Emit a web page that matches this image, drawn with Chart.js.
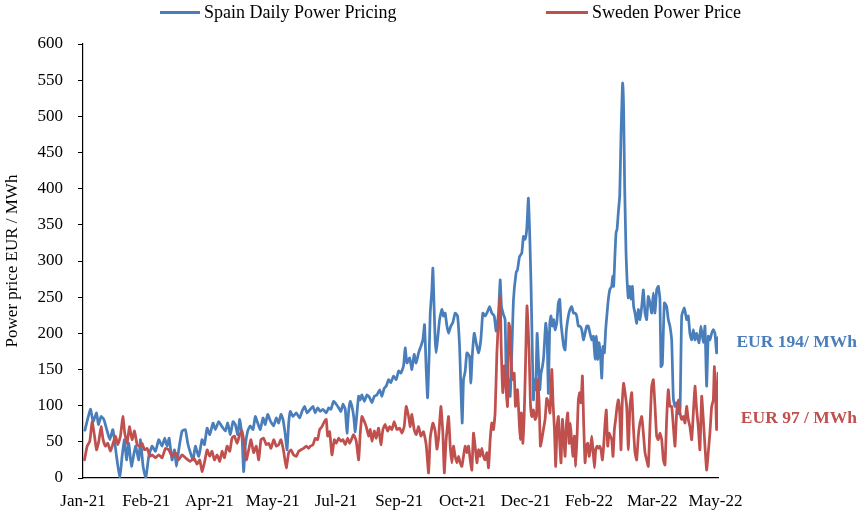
<!DOCTYPE html>
<html><head><meta charset="utf-8">
<script src="https://cdn.jsdelivr.net/npm/chart.js@4/dist/chart.umd.min.js"></script>
<style>html,body{margin:0;padding:0;background:#fff}#wrap{width:860px;height:512px}</style>
</head><body><div id="wrap"><canvas id="c" width="860" height="512"></canvas></div>
<script>
// days since 2021-01-01
const tickDays = [0,50,100,150,200,250,300,350,400,450,500];
const tickLabels = ['Jan-21','Feb-21','Apr-21','May-21','Jul-21','Sep-21','Oct-21','Dec-21','Feb-22','Mar-22','May-22'];
const lastDay = 502;

const spainDays = [1.5,5.9,8.0,10.7,12.2,14.3,16.5,19.1,21.2,23.6,26.5,29.1,30.9,32.8,34.4,36.2,38.3,41.5,44.1,45.4,47.5,49.6,52.0,54.6,57.3,59.9,62.5,64.6,66.5,68.1,70.4,72.3,73.9,75.7,78.3,80.9,82.8,
84.9,87.0,88.8,91.5,94.1,96.0,98.1,100.2,102.8,104.6,107.3,109.9,112.5,114.4,116.5,118.6,120.4,122.3,123.9,125.7,127.0,128.3,130.2,132.3,134.4,136.2,138.1,140.2,142.3,144.1,146.0,148.1,150.7,152.8,154.7,156.5,158.1,159.9,161.3,162.6,163.9,166.0,168.6,171.3,173.1,175.2,177.1,
179.7,181.8,183.6,185.5,187.6,189.7,192.3,194.2,196.0,198.1,200.2,202.1,203.9,205.5,207.3,208.7,210.0,211.3,212.6,214.0,215.2,216.6,217.9,219.2,220.5,222.4,224.5,226.6,228.4,230.3,232.4,234.5,236.3,238.1,239.7,241.6,243.4,245.5,247.6,249.5,251.3,253.4,254.7,256.1,258.2,260.0,261.8,263.4,265.3,267.1,268.7,270.0,271.3,272.4,273.7,
274.5,275.8,276.6,277.7,278.4,279.2,280.3,281.9,283.7,285.0,286.3,287.7,289.0,290.8,292.4,294.2,296.1,297.7,298.7,299.8,300.8,302.1,303.5,305.6,306.6,307.7,309.3,310.8,312.7,314.5,316.1,317.9,319.8,321.4,323.2,325.1,326.6,328.5,329.8,330.8,332.4,333.7,334.5,335.6,336.6,337.7,339.0,340.3,342.4,343.5,345.1,346.9,348.2,
349.5,350.8,352.1,353.2,354.2,355.3,356.1,356.9,357.9,359.0,360.0,361.1,362.1,363.2,364.2,365.8,366.9,367.9,369.0,370.0,371.1,372.1,373.2,374.5,375.8,376.9,377.9,379.0,380.0,381.1,382.2,383.7,385.0,386.4,387.7,389.0,390.3,391.6,392.9,394.3,395.6,396.9,398.2,399.5,400.8,402.2,403.5,404.8,405.8,406.9,407.9,409.0,410.1,411.1,412.2,413.2,414.3,415.3,416.6,418.0,418.7,419.5,420.6,421.4,422.2,423.2,424.3,425.3,426.1,426.6,427.4,428.2,
429.3,430.1,431.1,432.2,433.2,434.3,435.3,436.4,437.7,439.0,440.3,441.7,443.0,444.3,445.6,446.9,448.2,449.6,450.9,452.2,453.5,454.8,456.1,456.9,458.0,459.6,461.4,462.7,464.0,465.4,466.7,468.0,469.3,470.6,472.0,473.3,475.4,477.2,478.5,479.8,481.2,482.5,483.8,485.1,487.0,488.5,490.4,491.7,493.0,494.3,495.6,497.0,498.3,499.6,500.9,502.0];
const spainPrices = [66,95,78,90,74,85,81,65,53,67,30,0,30,53,25,48,16,44,25,53,16,0,30,44,37,53,44,55,44,55,25,39,16,39,65,67,48,
35,25,44,30,53,46,69,60,76,67,78,71,65,76,60,78,74,60,81,58,9,44,65,72,67,85,76,67,83,74,88,79,72,83,76,88,81,60,39,76,92,85,90,83,92,99,90,
95,99,90,97,92,95,90,97,95,106,102,97,92,102,95,62,92,106,99,85,64,90,113,108,115,106,115,111,104,113,115,122,113,124,127,136,132,141,136,148,145,155,180,159,166,150,171,159,173,182,191,212,150,111,173,
228,260,290,228,191,173,191,219,233,224,228,210,200,210,215,228,224,182,127,76,136,147,173,168,131,168,200,187,173,191,228,224,230,237,228,224,203,228,274,237,226,219,145,104,136,113,173,246,284,288,306,311,334,
330,344,387,334,265,168,108,136,122,200,164,122,145,154,168,214,196,117,214,224,210,219,205,214,242,247,214,196,182,177,205,224,233,237,228,228,224,210,210,205,191,200,210,210,200,191,196,164,196,164,187,173,138,182,173,205,228,247,261,265,279,265,311,339,344,367,390,473,523,546,510,404,
311,274,249,265,247,265,237,228,214,233,219,237,260,228,219,251,242,228,256,228,260,265,247,154,157,242,237,219,210,190,110,99,104,89,95,224,235,219,224,200,191,205,191,200,187,210,187,210,127,196,191,200,205,200,173,194];

const swedenDays = [1.2,3.3,5.4,7.2,9.1,10.7,12.5,14.3,15.9,17.8,19.6,21.7,23.8,25.7,27.5,29.6,31.5,33.0,34.9,36.7,38.8,40.7,42.8,44.6,46.7,48.6,50.7,52.8,54.6,57.3,59.9,62.5,65.2,67.8,70.4,73.1,75.7,78.3,81.0,
84.9,87.5,90.2,92.3,94.1,96.0,98.1,100.2,102.0,103.9,106.0,108.1,109.9,111.8,113.9,116.0,117.8,119.7,121.8,123.9,125.7,127.6,129.1,131.0,132.8,134.9,137.0,138.9,140.7,142.8,144.9,146.8,148.6,150.7,152.8,154.7,156.5,158.6,160.7,162.6,164.4,166.5,168.6,170.5,172.3,174.4,176.5,178.4,
179.7,181.8,183.6,185.5,187.1,188.9,190.8,192.3,193.4,195.0,196.8,198.7,200.2,202.1,203.9,205.5,207.3,209.2,210.8,212.6,213.9,216.0,217.9,219.2,220.5,222.4,223.9,225.8,227.1,228.4,230.3,231.8,233.7,235.5,237.1,238.9,240.8,242.4,244.2,246.0,248.2,250.3,252.1,253.9,255.5,257.4,258.7,260.0,261.8,263.4,265.3,267.1,269.2,271.3,273.2,
274.5,276.6,278.4,279.8,281.1,282.9,284.5,285.6,287.1,289.0,290.3,291.6,292.9,294.2,295.6,296.9,298.2,299.5,300.8,302.1,303.5,304.8,306.1,307.4,308.7,310.0,311.4,312.7,314.0,315.3,316.6,317.9,319.3,320.6,321.9,323.2,324.5,325.8,327.2,328.5,329.8,330.6,331.9,333.0,334.0,335.6,336.6,337.7,338.7,339.8,340.9,341.9,343.5,344.5,345.6,346.6,347.7,348.7,349.8,351.0,
352.7,353.7,354.8,356.1,357.4,358.5,359.5,360.6,361.6,362.7,364.0,365.3,366.6,367.9,369.2,370.6,371.6,372.7,373.7,374.8,375.8,376.9,377.9,379.0,380.0,381.1,382.2,383.2,384.3,385.3,386.4,387.4,388.5,389.5,390.6,391.6,392.7,393.7,394.8,395.8,396.9,397.9,399.0,400.1,401.1,402.2,403.2,404.3,405.3,406.4,407.4,408.5,409.5,410.6,411.6,412.7,413.7,414.8,415.9,416.9,418.0,419.0,420.1,421.1,422.2,423.2,424.3,425.3,426.4,427.4,
429.8,431.1,432.4,433.8,435.1,436.4,437.7,439.0,440.3,441.7,443.0,444.3,445.6,446.9,448.2,449.6,450.9,452.2,453.5,454.8,456.1,457.5,458.8,460.1,461.4,462.7,464.0,465.4,466.7,468.0,469.3,470.6,472.0,473.3,474.6,475.9,477.2,478.5,479.8,481.2,482.5,483.8,485.1,486.4,487.7,489.1,490.4,491.7,493.0,494.3,495.6,497.0,498.3,499.1,500.1,500.9,502.0];
const swedenPrices = [25,44,51,78,58,39,51,71,53,44,48,37,48,58,46,58,85,62,48,71,53,65,46,44,48,39,41,30,32,28,32,28,41,39,30,35,25,32,28,
23,28,19,25,9,21,39,30,37,25,32,23,37,28,44,37,55,58,48,60,65,46,25,39,53,35,44,25,53,55,46,48,41,53,44,46,53,37,14,35,39,32,30,37,39,41,44,41,
44,46,55,53,67,71,78,81,58,64,32,53,48,55,51,53,46,55,48,55,60,51,25,62,85,78,71,58,67,51,65,55,69,46,67,74,65,71,67,78,67,69,62,71,99,85,71,88,67,60,71,58,64,46,7,
55,76,65,40,55,99,62,7,53,85,44,21,44,30,21,30,21,16,30,44,35,44,25,11,62,44,21,39,30,41,30,25,35,14,53,76,67,90,173,219,251,182,118,155,136,99,214,205,155,136,145,99,122,90,53,90,48,81,155,238,
173,104,85,94,81,85,136,104,44,53,67,81,110,104,90,150,104,67,16,72,85,48,21,81,58,30,76,90,48,76,48,30,58,16,58,108,118,104,141,76,21,44,48,30,39,58,39,14,39,44,41,44,39,25,44,76,94,44,62,58,53,30,67,81,99,108,90,39,108,131,
99,39,99,118,71,35,25,58,76,85,62,35,25,16,71,127,136,99,58,53,62,53,25,18,81,122,99,99,71,44,90,108,90,81,85,76,99,81,71,53,90,127,95,71,39,113,81,44,11,35,62,99,108,154,113,67,145];

const seriesNames = ['Spain Daily Power Pricing','Sweden Power Price'];
const endLabels = ['EUR 194/ MWh','EUR 97 / MWh'];
const BLUE = '#4A7EBB', RED = '#C0504D';
const FONT = "'Liberation Serif', 'Times New Roman', serif";

const toPts = (d, v) => d.map((x, i) => ({x: x, y: v[i]}));

const overlay = {
  id: 'overlay',
  beforeDraw(chart) {
    const c = chart.ctx; c.save(); c.fillStyle = '#fff'; c.fillRect(0, 0, chart.width, chart.height); c.restore();
  },
  afterDraw(chart) {
    const c = chart.ctx;
    c.save();
    // legend
    c.font = '18px ' + FONT;
    c.textBaseline = 'middle';
    c.textAlign = 'left';
    const ly = 12.5;
    const items = [[160, 200, BLUE, seriesNames[0]], [546, 588, RED, seriesNames[1]]];
    items.forEach(([a, b, col, txt]) => {
      c.strokeStyle = col; c.lineWidth = 3; c.lineCap = 'butt';
      c.beginPath(); c.moveTo(a, ly); c.lineTo(b, ly); c.stroke();
      c.fillStyle = '#000'; c.fillText(txt, b + 4, ly + 1);
    });
    // end labels
    c.font = 'bold 17.5px ' + FONT;
    c.textAlign = 'right';
    c.fillStyle = BLUE; c.fillText(endLabels[0], 857, 342);
    c.fillStyle = RED; c.fillText(endLabels[1], 857, 418);
    c.restore();
  }
};

new Chart(document.getElementById('c'), {
  type: 'line',
  data: {
    datasets: [
      {label: seriesNames[0], data: toPts(spainDays, spainPrices), borderColor: BLUE, borderWidth: 2.75, pointRadius: 0, tension: 0.15, order: 1, borderJoinStyle: 'round', borderCapStyle: 'round'},
      {label: seriesNames[1], data: toPts(swedenDays, swedenPrices), borderColor: RED, borderWidth: 2.75, pointRadius: 0, tension: 0.15, order: 0, borderJoinStyle: 'round', borderCapStyle: 'round'}
    ]
  },
  options: {
    responsive: false, animation: false, devicePixelRatio: 1,
    layout: {padding: {top: 44, right: 142, left: 0, bottom: 0}},
    plugins: {legend: {display: false}, tooltip: {enabled: false}},
    scales: {
      x: {
        type: 'linear', min: 0, max: lastDay,
        afterBuildTicks(s) { s.ticks = tickDays.map(v => ({value: v})); },
        afterFit(s) { s.height = 34; },
        ticks: {autoSkip: false, maxRotation: 0, padding: 5, color: '#000', font: {family: FONT, size: 17},
          callback: (v) => { const i = tickDays.indexOf(v); return i >= 0 ? tickLabels[i] : ''; }},
        grid: {display: false},
        border: {display: true, color: '#000', width: 1.2}
      },
      y: {
        min: 0, max: 600,
        afterFit(s) { s.width = 83; },
        ticks: {stepSize: 50, padding: 15, color: '#000', font: {family: FONT, size: 17}},
        grid: {display: true, drawOnChartArea: false, drawTicks: true, tickLength: 5, color: '#000', lineWidth: 1},
        border: {display: true, color: '#000', width: 1.2},
        title: {display: true, text: 'Power price EUR / MWh', color: '#000', font: {family: FONT, size: 17}, padding: {top: 2, bottom: 0}}
      }
    }
  },
  plugins: [overlay]
});
</script></body></html>
